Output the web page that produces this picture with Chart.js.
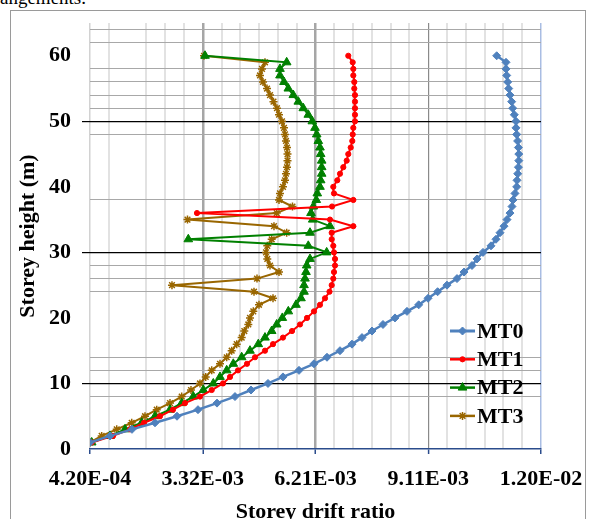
<!DOCTYPE html>
<html><head><meta charset="utf-8">
<script src="https://cdn.jsdelivr.net/npm/chart.js@4.4.1/dist/chart.umd.min.js"></script>
<style>
html,body{margin:0;padding:0;background:#fff;overflow:hidden;width:589px;height:519px;}
#frame{position:absolute;left:10px;top:10px;width:576px;height:600px;border:1px solid #9a9a9a;box-sizing:border-box;}
#top{position:absolute;left:0;top:-13px;font:19px 'Liberation Serif',serif;color:#000;white-space:nowrap;}
canvas{position:absolute;left:0;top:0;}
</style></head><body>
<div id="top">angements.</div>
<div id="frame"></div>
<canvas id="c" width="589" height="519"></canvas>
<script>
// ---- data ----
const heights = [
  1,2,3,4,5,6,7,8,9,10,
  11,12,13,14,15,16,17,18,19,20,
  21,22,23,24,25,26,27,28,29,30,
  31,32,33,34,35,36,37,38,39,40,
  41,42,43,44,45,46,47,48,49,50,
  51,52,53,54,55,56,57,58,59,60
];
const mt0 = [
  0.420e-3,0.934e-3,1.498e-3,2.089e-3,2.654e-3,3.193e-3,3.681e-3,4.143e-3,4.554e-3,4.990e-3,
  5.375e-3,5.786e-3,6.171e-3,6.505e-3,6.839e-3,7.147e-3,7.404e-3,7.661e-3,7.943e-3,8.251e-3,
  8.559e-3,8.860e-3,9.100e-3,9.345e-3,9.586e-3,9.843e-3,10.023e-3,10.228e-3,10.357e-3,10.511e-3,
  10.716e-3,10.844e-3,10.947e-3,11.050e-3,11.127e-3,11.204e-3,11.255e-3,11.281e-3,11.332e-3,11.376e-3,
  11.384e-3,11.402e-3,11.420e-3,11.430e-3,11.430e-3,11.420e-3,11.400e-3,11.376e-3,11.358e-3,11.358e-3,
  11.314e-3,11.273e-3,11.247e-3,11.204e-3,11.171e-3,11.145e-3,11.119e-3,11.101e-3,11.101e-3,10.862e-3
];
const mt1 = [
  0.464e-3,1.011e-3,1.447e-3,1.807e-3,2.217e-3,2.551e-3,2.859e-3,3.244e-3,3.545e-3,3.835e-3,
  4.015e-3,4.220e-3,4.451e-3,4.657e-3,4.913e-3,5.119e-3,5.375e-3,5.607e-3,5.812e-3,5.992e-3,
  6.171e-3,6.325e-3,6.454e-3,6.569e-3,6.626e-3,6.667e-3,6.685e-3,6.711e-3,6.711e-3,6.685e-3,
  6.667e-3,6.626e-3,6.626e-3,7.181e-3,6.582e-3,3.167e-3,6.634e-3,7.181e-3,6.685e-3,6.667e-3,
  6.770e-3,6.839e-3,6.924e-3,7.011e-3,7.052e-3,7.114e-3,7.155e-3,7.165e-3,7.181e-3,7.224e-3,
  7.224e-3,7.224e-3,7.224e-3,7.224e-3,7.206e-3,7.206e-3,7.181e-3,7.181e-3,7.165e-3,7.052e-3
];
const mt2 = [
  0.464e-3,0.934e-3,1.319e-3,1.747e-3,2.089e-3,2.474e-3,2.774e-3,3.072e-3,3.329e-3,3.586e-3,
  3.758e-3,3.930e-3,4.099e-3,4.315e-3,4.528e-3,4.741e-3,4.913e-3,5.085e-3,5.214e-3,5.358e-3,
  5.512e-3,5.709e-3,5.838e-3,5.915e-3,5.915e-3,5.940e-3,5.966e-3,5.984e-3,6.069e-3,6.497e-3,
  6.025e-3,2.944e-3,6.069e-3,6.582e-3,6.138e-3,6.094e-3,6.153e-3,6.230e-3,6.256e-3,6.325e-3,
  6.343e-3,6.369e-3,6.369e-3,6.369e-3,6.343e-3,6.325e-3,6.282e-3,6.241e-3,6.197e-3,6.128e-3,
  6.025e-3,5.897e-3,5.768e-3,5.640e-3,5.512e-3,5.401e-3,5.298e-3,5.298e-3,5.470e-3,3.373e-3
];
const mt3 = [
  0.420e-3,0.720e-3,1.106e-3,1.491e-3,1.832e-3,2.133e-3,2.474e-3,2.774e-3,3.013e-3,3.244e-3,
  3.391e-3,3.545e-3,3.758e-3,3.930e-3,4.058e-3,4.187e-3,4.315e-3,4.382e-3,4.485e-3,4.528e-3,
  4.613e-3,4.759e-3,5.119e-3,4.631e-3,2.525e-3,4.708e-3,5.273e-3,5.042e-3,4.972e-3,4.939e-3,
  4.972e-3,5.085e-3,5.470e-3,5.144e-3,2.923e-3,5.214e-3,5.619e-3,5.273e-3,5.298e-3,5.375e-3,
  5.427e-3,5.452e-3,5.478e-3,5.491e-3,5.491e-3,5.478e-3,5.452e-3,5.427e-3,5.401e-3,5.350e-3,
  5.273e-3,5.221e-3,5.131e-3,5.042e-3,4.965e-3,4.862e-3,4.785e-3,4.836e-3,4.913e-3,3.347e-3
];
const seriesNames = ['MT0','MT1','MT2','MT3'];
const xTickLabels = ['4.20E-04','3.32E-03','6.21E-03','9.11E-03','1.20E-02'];
const xMin = 0.42e-3, xMax = 12.0e-3;
const minorPerMajor = 6;
const xHiddenMinor = [2];
const yMin = 0, yMax = 65, yGridStep = 2, yLabelStep = 10;
const yBlackLines = [10,30,50];
const yGrayLines = [8,12,14,24,26,28,38,48,52,54,56,58,62,64];

// ---- ticks ----
const nSteps = (xTickLabels.length - 1) * minorPerMajor;
const xTicks = [];
for (let i = 0; i <= nSteps; i++) xTicks.push(xMin + (xMax - xMin) * i / nSteps);
const yTicks = [];
for (let v = yMin; v < yMax; v += yGridStep) yTicks.push(v);

const TR = 'rgba(0,0,0,0)';
function xGridColor(i) {
  if (i === 0) return '#d2d2d2';
  if (i === nSteps) return '#a9bde3';
  if (i % minorPerMajor === 0) return i === 3 * minorPerMajor ? '#8a8a8a' : '#a6a6a6';
  if (xHiddenMinor.includes(i)) return TR;
  return '#e2e2e2';
}
function xGridWidth(i) {
  if (i === 0) return 1.5;
  if (i === nSteps) return 1.5;
  if (i % minorPerMajor === 0) return i === 3 * minorPerMajor ? 1.2 : 2.5;
  return 2;
}

const styles = [
  {color:'#4F81BD', style:'rectRot', r:4, lw:2.5, pbw:1},
  {color:'#FF0000', style:'circle', r:2.6, lw:2, pbw:1},
  {color:'#008000', style:'triangle', r:5, lw:2, pbw:1},
  {color:'#996600', style:'star', r:4, lw:2, pbw:1.5}
];
const allSeries = [mt0, mt1, mt2, mt3];
const datasets = allSeries.map((arr, k) => ({
  label: seriesNames[k],
  data: heights.map((h, i) => ({x: arr[i], y: h})),
  borderColor: styles[k].color,
  backgroundColor: styles[k].color,
  borderWidth: styles[k].lw,
  pointStyle: styles[k].style,
  pointRadius: styles[k].r,
  pointBorderWidth: styles[k].pbw,
  pointBackgroundColor: styles[k].color,
  pointBorderColor: styles[k].color,
  tension: 0,
  fill: false
}));

const serif = "'Liberation Serif', 'Times New Roman', serif";

const legendPlugin = {
  id: 'insideLegend',
  afterDatasetsDraw(chart) {
    const ctx = chart.ctx;
    const x0 = 450, x1 = 475, y0 = 331, dy = 28.3;
    chart.data.datasets.forEach((ds, i) => {
      const y = y0 + i * dy;
      ctx.save();
      ctx.strokeStyle = ds.borderColor;
      ctx.fillStyle = ds.borderColor;
      ctx.lineWidth = ds.borderWidth + 0.5;
      ctx.beginPath(); ctx.moveTo(x0, y); ctx.lineTo(x1, y); ctx.stroke();
      ctx.lineWidth = ds.pointBorderWidth;
      Chart.helpers.drawPoint(ctx, {pointStyle: ds.pointStyle, radius: ds.pointRadius, borderWidth: ds.pointBorderWidth, rotation: 0}, (x0 + x1) / 2, y);
      ctx.fillStyle = '#000';
      ctx.font = 'bold 22px ' + serif;
      ctx.textBaseline = 'middle';
      ctx.textAlign = 'left';
      ctx.fillText(ds.label, x1 + 2, y + 1);
      ctx.restore();
    });
  }
};

new Chart(document.getElementById('c'), {
  type: 'line',
  data: { datasets },
  plugins: [legendPlugin],
  options: {
    responsive: false,
    animation: false,
    devicePixelRatio: 1,
    indexAxis: 'y',
    layout: { padding: { left: 0, right: 48, top: 23, bottom: 0 } },
    plugins: { legend: { display: false }, tooltip: { enabled: false } },
    scales: {
      x: {
        type: 'linear', position: 'bottom', min: xMin, max: xMax,
        afterBuildTicks: s => { s.ticks = xTicks.map(v => ({value: v})); },
        afterFit: s => { s.height = 70; s.paddingLeft = 0; s.paddingRight = 0; },
        border: { display: true, color: '#2B4C8C', width: 1.5 },
        grid: {
          color: c => xGridColor(c.index),
          lineWidth: c => xGridWidth(c.index),
          drawTicks: true, tickLength: 5,
          tickColor: c => (c.index % minorPerMajor === 0 ? '#2B4C8C' : TR),
          tickWidth: 1.5
        },
        ticks: {
          autoSkip: false, maxRotation: 0, minRotation: 0, padding: 12,
          color: '#000', font: { family: serif, size: 22, weight: 'bold' },
          callback: (v, i) => (i % minorPerMajor === 0 ? xTickLabels[i / minorPerMajor] : '')
        },
        title: { display: true, text: 'Storey drift ratio', color: '#000',
          font: { family: serif, size: 22, weight: 'bold', lineHeight: 0.62 }, padding: { top: 0, bottom: 0 } }
      },
      y: {
        type: 'linear', position: 'left', min: yMin, max: yMax,
        afterBuildTicks: s => { s.ticks = yTicks.map(v => ({value: v})); },
        afterFit: s => { s.width = 90; s.paddingTop = 0; s.paddingBottom = 0; },
        border: { display: false },
        grid: {
          color: c => yBlackLines.includes(c.tick.value) ? '#000' : (yGrayLines.includes(c.tick.value) ? '#a8a8a8' : TR),
          lineWidth: c => yBlackLines.includes(c.tick.value) ? 1.2 : 1,
          drawTicks: true, tickLength: 8,
          tickColor: c => yBlackLines.includes(c.tick.value) ? '#000' : TR,
          tickWidth: 1.2
        },
        ticks: {
          autoSkip: false, padding: 11, color: '#000',
          font: { family: serif, size: 22, weight: 'bold' },
          callback: v => (v % yLabelStep === 0 ? String(v) : '')
        },
        title: { display: true, text: 'Storey height (m)', color: '#000',
          font: { family: serif, size: 22, weight: 'bold' }, padding: { top: 15, bottom: 0 } }
      }
    }
  }
});
</script></body></html>
